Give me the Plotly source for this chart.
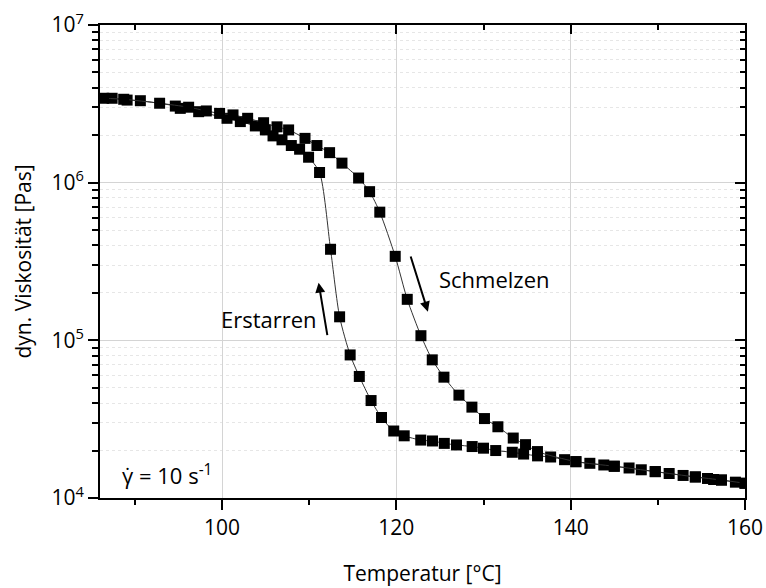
import plotly.graph_objects as go

# ---- data ----
heat_T = [86.42, 88.72, 92.84, 96.17, 98.20, 99.72, 101.26, 102.94, 104.77, 106.31,
          107.64, 109.52, 110.89, 112.34, 113.76, 115.67, 116.93, 118.10, 119.87, 121.25,
          122.82, 124.12, 125.46, 127.18, 128.67, 130.11, 131.65, 133.41, 134.82, 136.19,
          140.6, 145.0, 149.7, 154.3, 157.3, 160.0]
heat_eta = [3.43e6, 3.38e6, 3.19e6, 3.01e6, 2.85e6, 2.75e6, 2.69e6, 2.56e6, 2.40e6, 2.26e6,
            2.16e6, 1.91e6, 1.72e6, 1.55e6, 1.33e6, 1.07e6, 8.77e5, 6.50e5, 3.41e5, 1.82e5,
            1.07e5, 7.52e4, 5.84e4, 4.49e4, 3.77e4, 3.19e4, 2.83e4, 2.40e4, 2.18e4, 1.97e4,
            1.70e4, 1.59e4, 1.47e4, 1.36e4, 1.30e4, 1.24e4]

cool_T = [160.0, 158.9, 157.3, 156.4, 155.7, 154.3, 152.9, 151.3, 149.7, 148.1,
          146.7, 145.0, 143.8, 142.2, 140.6, 139.3, 137.7, 136.2, 134.6, 133.3,
          131.4, 130.0, 128.7, 126.9, 125.5, 124.15, 122.8, 120.9, 119.7, 118.3,
          117.1, 115.75, 114.7, 113.49, 112.45, 111.19, 109.93, 108.90, 107.95, 106.88,
          105.85, 104.97, 103.82, 102.10, 100.57, 97.32, 95.21, 94.64, 90.63, 89.11, 87.39]
cool_eta = [1.24e4, 1.26e4, 1.30e4, 1.31e4, 1.33e4, 1.36e4, 1.39e4, 1.43e4, 1.47e4, 1.51e4,
            1.55e4, 1.59e4, 1.62e4, 1.66e4, 1.70e4, 1.75e4, 1.82e4, 1.85e4, 1.90e4, 1.95e4,
            2.00e4, 2.07e4, 2.12e4, 2.17e4, 2.22e4, 2.30e4, 2.33e4, 2.48e4, 2.66e4, 3.24e4,
            4.15e4, 5.90e4, 8.08e4, 1.41e5, 3.78e5, 1.16e6, 1.45e6, 1.63e6, 1.72e6, 1.87e6,
            1.98e6, 2.16e6, 2.29e6, 2.44e6, 2.56e6, 2.82e6, 2.96e6, 3.06e6, 3.31e6, 3.34e6, 3.43e6]

x_major = [100, 120, 140, 160]
x_minor = [90, 110, 130, 150]
y_major = [1e4, 1e5, 1e6, 1e7]
y_major_text = ["10<sup>4</sup>", "10<sup>5</sup>", "10<sup>6</sup>", "10<sup>7</sup>"]
y_minor = [m * 10 ** e for e in (4, 5, 6) for m in range(2, 10)]

FONT = "Open Sans"
FS = 21

fig = go.Figure()
marker = dict(symbol="square", size=11, color="black")
line = dict(color="#333333", width=1, shape="spline", smoothing=0.7)
fig.add_trace(go.Scatter(x=cool_T, y=cool_eta, mode="lines+markers", marker=marker,
                         line=line, showlegend=False, name="Erstarren"))
fig.add_trace(go.Scatter(x=heat_T, y=heat_eta, mode="lines+markers", marker=marker,
                         line=line, showlegend=False, name="Schmelzen"))
# empty trace so that the mirrored (top/right) axes are drawn
fig.add_trace(go.Scatter(x=[None], y=[None], xaxis="x2", yaxis="y2",
                         showlegend=False, hoverinfo="skip"))

grid_c = "#d4d4d4"
minor_grid_c = "#e6e6e6"
fig.update_layout(
    width=766, height=588,
    margin=dict(l=100, r=21, t=25, b=90),
    paper_bgcolor="white", plot_bgcolor="white",
    font=dict(family=FONT, size=FS, color="black"),
    xaxis=dict(
        range=[86, 160], tickmode="array", tickvals=x_major, automargin=False,
        ticks="outside", ticklen=10, tickwidth=2, tickcolor="black",
        showline=True, linecolor="black", linewidth=2,
        showgrid=True, gridcolor=grid_c, gridwidth=1, zeroline=False,
        minor=dict(tickmode="array", tickvals=x_minor, ticks="outside", ticklen=5,
                   tickwidth=2, tickcolor="black", showgrid=False),
        title=dict(text="Temperatur [°C]", standoff=26, font=dict(size=FS)),
        tickfont=dict(size=FS),
    ),
    yaxis=dict(
        type="log", range=[4, 7], tickmode="array", tickvals=y_major, ticktext=y_major_text,
        automargin=False,
        ticks="outside", ticklen=10, tickwidth=2, tickcolor="black",
        showline=True, linecolor="black", linewidth=2,
        showgrid=True, gridcolor=grid_c, gridwidth=1, zeroline=False,
        minor=dict(tickmode="array", tickvals=y_minor, ticks="outside", ticklen=6,
                   tickwidth=2, tickcolor="black", showgrid=True, gridcolor=minor_grid_c,
                   griddash="dot", gridwidth=1),
        title=dict(text="dyn. Viskosität [Pas]", standoff=14, font=dict(size=FS)),
        tickfont=dict(size=FS),
    ),
    xaxis2=dict(
        overlaying="x", side="top", anchor="y", range=[86, 160], tickmode="array",
        automargin=False,
        tickvals=x_major, ticks="inside", ticklen=9, tickwidth=2, tickcolor="black",
        showticklabels=False, showgrid=False, zeroline=False,
        showline=True, linecolor="black", linewidth=2,
        minor=dict(tickmode="array", tickvals=x_minor, ticks="inside", ticklen=5,
                   tickwidth=2, tickcolor="black", showgrid=False),
    ),
    yaxis2=dict(
        type="log", overlaying="y", side="right", anchor="x", range=[4, 7],
        automargin=False,
        tickmode="array", tickvals=y_major, ticks="inside", ticklen=10, tickwidth=2,
        tickcolor="black", showticklabels=False, showgrid=False, zeroline=False,
        showline=True, linecolor="black", linewidth=2,
        minor=dict(tickmode="array", tickvals=y_minor, ticks="inside", ticklen=5,
                   tickwidth=2, tickcolor="black", showgrid=False),
    ),
    annotations=[
        dict(x=131.22, y=5.389, xref="x", yref="y", text="Schmelzen", showarrow=False,
             font=dict(size=22)),
        dict(x=105.35, y=5.133, xref="x", yref="y", text="Erstarren", showarrow=False,
             font=dict(size=22)),
        dict(x=88.3, y=4.146, xref="x", yref="y", xanchor="left",
             text="γ̇ = 10 s<sup>-1</sup>", showarrow=False, font=dict(size=22)),
        # arrows
        dict(x=123.62, y=5.182, ax=121.59, ay=5.541, xref="x", yref="y", axref="x",
             ayref="y", text="", showarrow=True, arrowhead=2, arrowsize=1,
             arrowwidth=2, arrowcolor="black"),
        dict(x=111.08, y=5.366, ax=112.11, ay=5.023, xref="x", yref="y", axref="x",
             ayref="y", text="", showarrow=True, arrowhead=2, arrowsize=1,
             arrowwidth=2, arrowcolor="black"),
    ],
)

fig.write_html("out.html")
